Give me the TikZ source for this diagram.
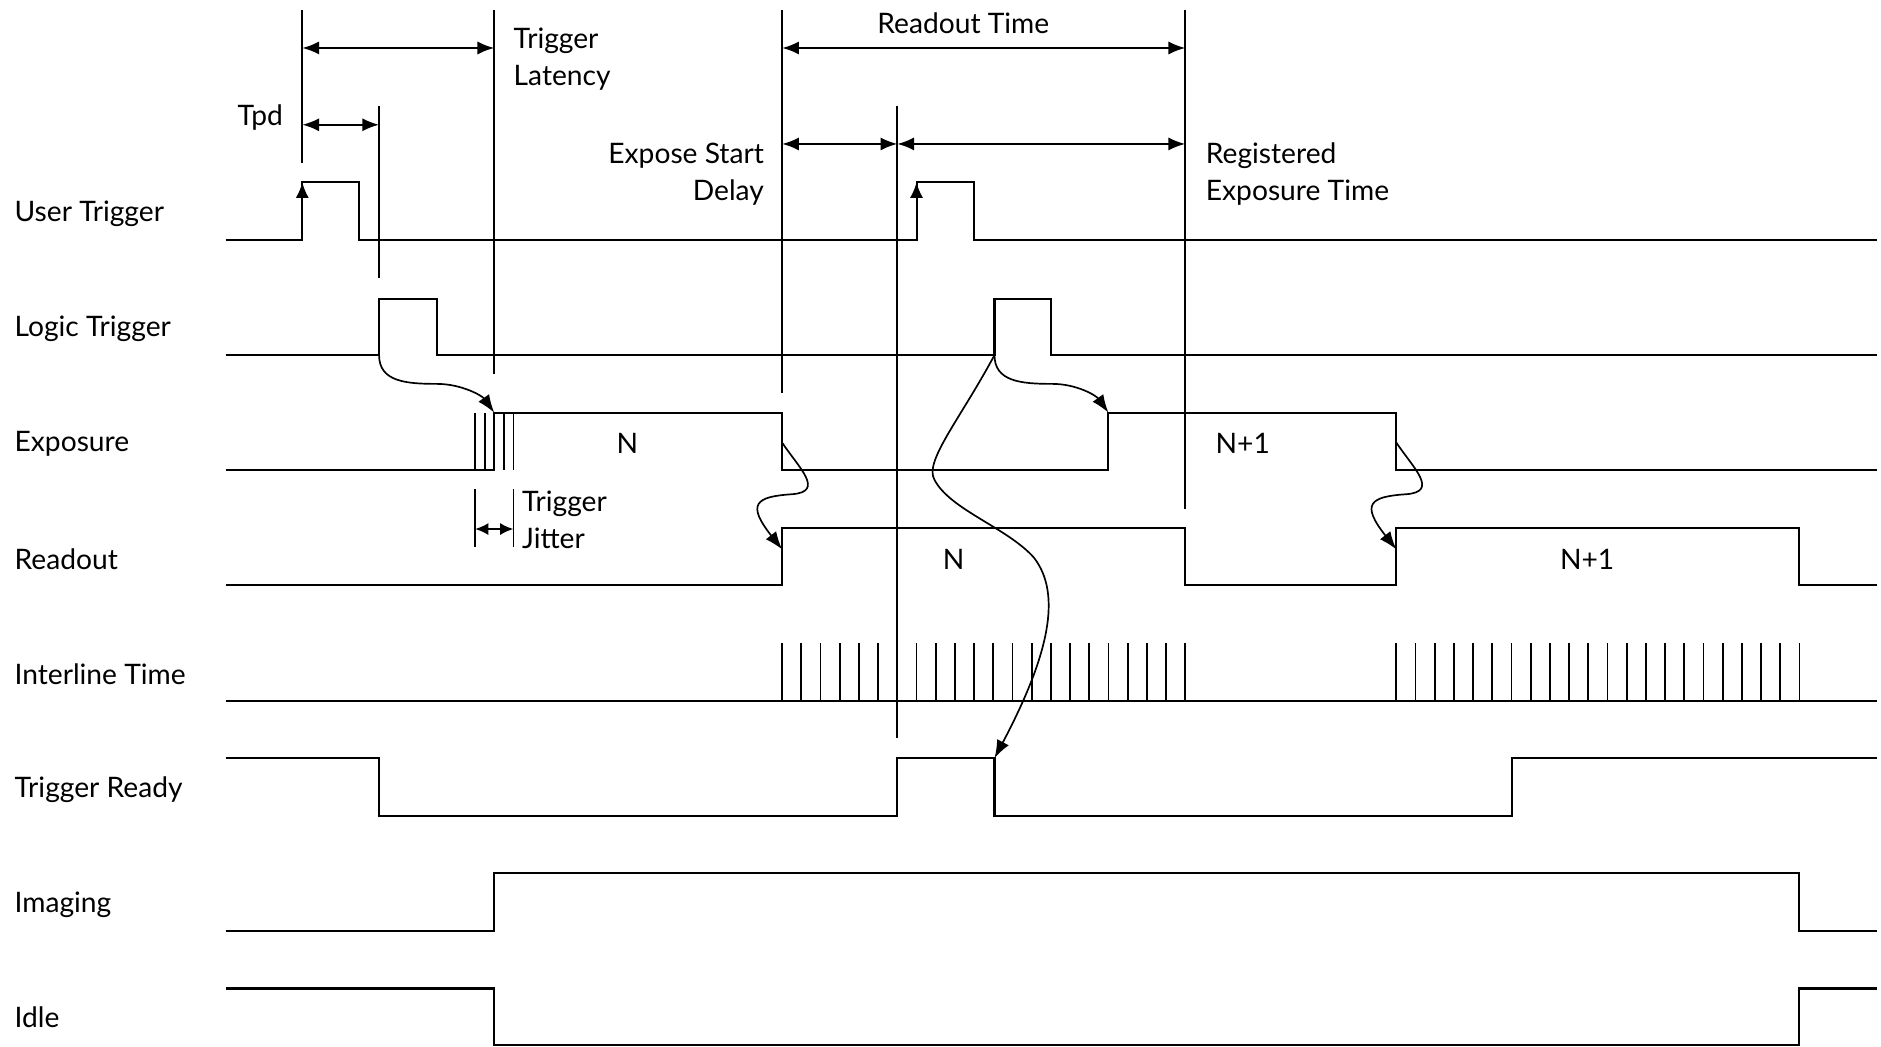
\documentclass[tikz,border=0pt]{standalone}
\usepackage{fontspec}
\setmainfont{Lato}
\usetikzlibrary{arrows.meta}
\begin{document}
\begin{tikzpicture}[x=1pt,y=-1pt,
  sig/.style={line width=1.7pt,line join=miter},
  markline/.style={line width=1.5pt},
  dim/.style={line width=1.7pt,{Latex[length=14pt,width=11pt]}-{Latex[length=14pt,width=11pt]}},
  smalldim/.style={line width=1.7pt,{Latex[length=11pt,width=10pt]}-{Latex[length=11pt,width=10pt]}},
  flow/.style={line width=1.4pt,-{Latex[length=15pt,width=11pt]}},
  uparrow/.style={line width=1.7pt,-{Latex[length=13pt,width=11pt]}},
  lab/.style={font=\fontsize{23.5}{31}\selectfont, inner sep=0pt, align=left},
]
\useasboundingbox (0,0) rectangle (1568,872);

% signal names
\node[lab,anchor=west] (lUser)  at (12,178) {User Trigger};
\node[lab,anchor=west] (lLogic) at (12,274) {Logic Trigger};
\node[lab,anchor=west] (lExp)   at (12,370) {Exposure};
\node[lab,anchor=west] (lRead)  at (12,466) {Readout};
\node[lab,anchor=west] (lInter) at (12,562) {Interline Time};
\node[lab,anchor=west] (lReady) at (12,658) {Trigger Ready};
\node[lab,anchor=west] (lImg)   at (12,754) {Imaging};
\node[lab,anchor=west] (lIdle)  at (12,848) {Idle};

% annotation texts
\node[lab,anchor=east] (tTpd) at (236,98) {Tpd};
\node[lab,anchor=west] (tLat) at (428,49) {Trigger\\Latency};
\node[lab] (tRead) at (803,19) {Readout Time};
\node[lab,anchor=east,align=right] (tESD) at (637,145) {Expose Start\\Delay};
\node[lab,anchor=west] (tReg) at (1005,145) {Registered\\Exposure Time};
\node[lab,anchor=west] (tJit) at (435,433) {Trigger\\Jitter};
\node[lab] (tN1) at (523,370) {N};
\node[lab] (tN2) at (1036,370) {N+1};
\node[lab] (tN3) at (795,466) {N};
\node[lab] (tN4) at (1323,466) {N+1};

% signals
\draw[sig] (188,200) -- (252,200) -- (252,152) -- (299,152) -- (299,200) -- (764,200) -- (764,152) -- (812,152) -- (812,200) -- (1565,200);
\draw[uparrow] (252,200) -- (252,152);
\draw[uparrow] (764,200) -- (764,152);

\draw[sig] (188,296) -- (316,296) -- (316,249) -- (364,249) -- (364,296) -- (829,296) -- (829,249) -- (876,249) -- (876,296) -- (1565,296);

\draw[sig] (188,392) -- (412,392) -- (412,344) -- (652,344) -- (652,392) -- (924,392) -- (924,344) -- (1164,344) -- (1164,392) -- (1565,392);
\foreach \x in {396,404,420,428} \draw[markline] (\x,344) -- (\x,392);

\draw[sig] (188,488) -- (652,488) -- (652,440) -- (988,440) -- (988,488) -- (1164,488) -- (1164,440) -- (1500,440) -- (1500,488) -- (1565,488);

\draw[sig] (188,584) -- (1565,584);
\foreach \i in {0,...,21} {
  \draw[markline] (652+16*\i,584) -- ++(0,-48);
  \draw[markline] (1164+16*\i,584) -- ++(0,-48);
}

\draw[sig] (188,632) -- (316,632) -- (316,680) -- (748,680) -- (748,632) -- (829,632) -- (829,680) -- (1260,680) -- (1260,632) -- (1565,632);

\draw[sig] (188,776) -- (412,776) -- (412,728) -- (1500,728) -- (1500,776) -- (1565,776);
\draw[sig] (188,824) -- (412,824) -- (412,871) -- (1500,871) -- (1500,824) -- (1565,824);

% marker lines
\draw[markline] (252,8) -- (252,136);
\draw[markline] (316,88) -- (316,232);
\draw[markline] (412,8) -- (412,312);
\draw[markline] (652,8) -- (652,328);
\draw[markline] (748,88) -- (748,615);
\draw[markline] (988,8) -- (988,424);
\draw[markline] (396,408) -- (396,456);
\draw[markline] (428,408) -- (428,456);

% dimension arrows
\draw[dim] (252,40) -- (412,40);
\draw[dim] (252,104) -- (316,104);
\draw[dim] (652,40) -- (988,40);
\draw[dim] (652,120) -- (748,120);
\draw[dim] (748,120) -- (988,120);
\draw[smalldim] (396,441) -- (428,441);

% causal arrows
\coordinate (lt1) at (316,296);
\coordinate (ex1) at (412,344);
\coordinate (lt2) at (829,296);
\coordinate (ex2) at (924,344);
\coordinate (tr2) at (829,632);
\coordinate (exf1) at (652,369);
\coordinate (rd1) at (652,458);
\coordinate (exf2) at (1164,369);
\coordinate (rd2) at (1164,458);

\draw[flow] (lt1) .. controls (316,318) and (338,320) .. (364,320) .. controls (385,320) and (402,330) .. (ex1);
\draw[flow] (lt2) .. controls (829,318) and (851,320) .. (877,320) .. controls (898,320) and (914,330) .. (ex2);
\draw[flow] (lt2) .. controls (800,350) and (770,385) .. (779,400) .. controls (792,425) and (840,440) .. (862,465) .. controls (885,495) and (875,545) .. (tr2);
\draw[flow] (exf1) .. controls (666,390) and (688,410) .. (660,412) .. controls (630,414) and (622,420) .. (rd1);
\draw[flow] (exf2) .. controls (1178,390) and (1200,410) .. (1172,412) .. controls (1142,414) and (1134,420) .. (rd2);
\end{tikzpicture}
\end{document}
